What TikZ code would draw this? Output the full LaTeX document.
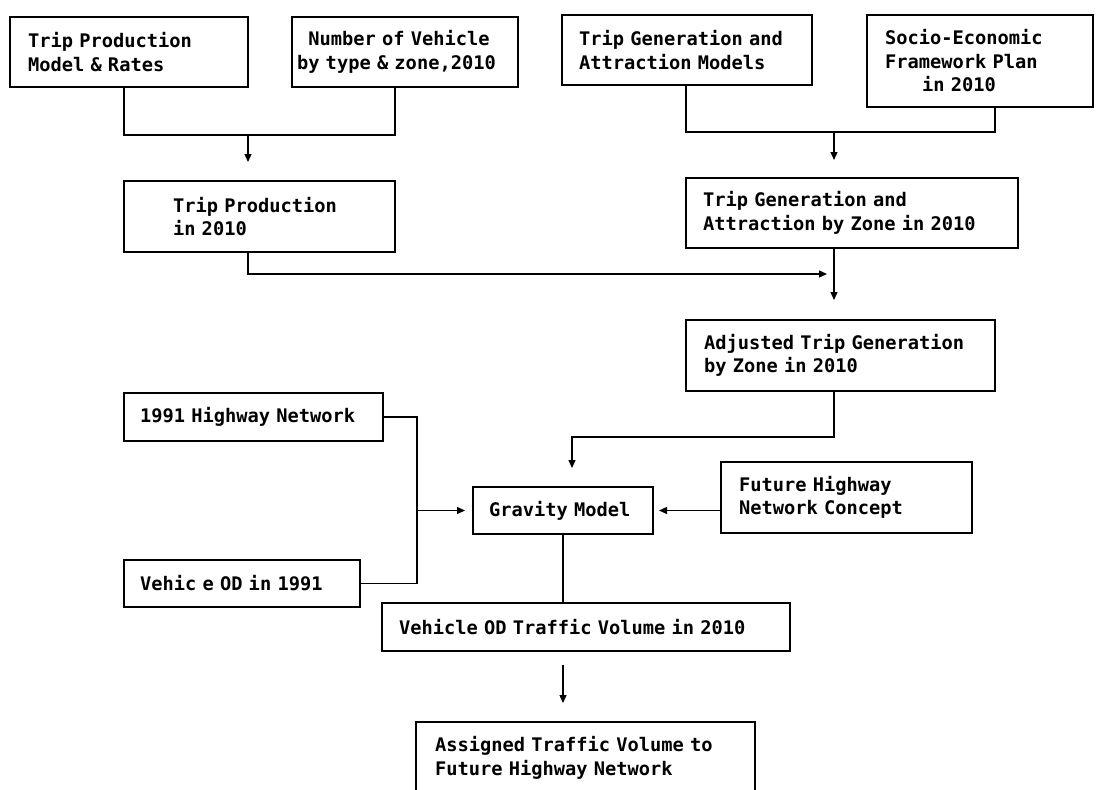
\documentclass[tikz,border=0pt]{standalone}
\usepackage{fontspec}
\usetikzlibrary{arrows.meta}
\newfontfamily\dmono{DejaVu Sans Mono}
\tikzset{
  box/.style={draw, line width=1.4pt, rectangle, anchor=north west, align=left,
    inner ysep=0pt, outer sep=0pt, font=\dmono\bfseries\fontsize{18.7}{23.5}\selectfont},
  conn/.style={line width=1.3pt},
  arr/.style={-{Triangle[length=8pt,width=7pt]}}
}
\begin{document}
\begin{tikzpicture}[x=1pt,y=-1pt]
\useasboundingbox (0,0) rectangle (1099,789);
\fill[white] (0,0) rectangle (1099,789);

\node[box, minimum width=238pt, minimum height=70pt, text width=202pt, inner xsep=18pt] (b1) at (10,17) {Trip Production\\Model \& Rates};
\node[box, minimum width=226pt, minimum height=70pt, text width=216pt, inner xsep=5pt] (b2) at (292,17) {\hphantom{x}Number of Vehicle\\by type \& zone,2010};
\node[box, minimum width=271pt, minimum height=71pt, text width=173pt, inner xsep=49pt] (b3) at (124,181) {Trip Production\\in 2010};
\node[box, minimum width=250pt, minimum height=70pt, text width=216pt, inner xsep=17pt] (b4) at (562,15) {Trip Generation and\\Attraction Models};
\node[box, minimum width=226pt, minimum height=92pt, text width=190pt, inner xsep=18pt] (b5) at (867,15) {Socio-Economic\\Framework Plan\\\hspace*{37pt}in 2010};
\node[box, minimum width=332pt, minimum height=70pt, text width=298pt, inner xsep=17pt] (b6) at (686,178) {Trip Generation and\\Attraction by Zone in 2010};
\node[box, minimum width=309pt, minimum height=71pt, text width=273pt, inner xsep=18pt] (b7) at (686,320) {Adjusted Trip Generation\\by Zone in 2010};
\node[box, minimum width=180pt, minimum height=47pt, text width=148pt, inner xsep=16pt] (b8) at (473,487) {Gravity Model};
\node[box, minimum width=251pt, minimum height=71pt, text width=215pt, inner xsep=18pt] (b9) at (721,462) {Future Highway\\Network Concept};
\node[box, minimum width=259pt, minimum height=48pt, text width=227pt, inner xsep=16pt] (b10) at (124,393) {1991 Highway Network};
\node[box, minimum width=236pt, minimum height=47pt, text width=204pt, inner xsep=16pt] (b11) at (124,560) {Vehic e OD in 1991};
\node[box, minimum width=408pt, minimum height=48pt, text width=374pt, inner xsep=17pt] (b12) at (382,603) {Vehicle OD Traffic Volume in 2010};
\node[box, minimum width=339pt, minimum height=72pt, text width=301pt, inner xsep=19pt] (b13) at (416,722) {Assigned Traffic Volume to\\Future Highway Network};

\coordinate (j1) at (248,135);
\coordinate (j2) at (834,132);
\coordinate (j3) at (834,274);
\coordinate (j4) at (572,437);
\coordinate (j5) at (417,0);

% top left merge
\draw[conn] (b1.south -| b3.west) -- ++(0,48) -| (b2.south -| b3.east);
\draw[conn,arr,shorten >=19pt] (j1) -- (j1 |- b3.north);
% top right merge
\draw[conn] (b4.south -| b6.west) -- ++(0,47) -| (b5.south -| b7.east);
\draw[conn,arr,shorten >=18pt] (j2) -- (j2 |- b6.north);
% trip production to right trunk
\draw[conn,arr,shorten >=7pt] (b3.south -| j1) |- (j3);
\draw[conn,arr,shorten >=20pt] (b6.south -| j3) -- (b7.north -| j3);
% adjusted to gravity
\draw[conn,arr,shorten >=19pt] (b7.south -| j3) |- (j4) -- (j4 |- b8.north);
% future network to gravity
\draw[conn,arr,shorten >=6pt] (b9.west |- b8.east) -- (b8.east);
% 1991 inputs
\draw[conn] (b10.east) -| (j5 |- b11.east) -- (b11.east);
\draw[conn,arr,shorten >=8pt] (j5 |- b8.west) -- (b8.west);
% gravity down
\draw[conn] (b8.south) -- (b8.south |- b12.north);
\draw[conn,arr,shorten <=14pt,shorten >=19pt] (b12.south -| b8.south) -- (b13.north -| b8.south);
\end{tikzpicture}
\end{document}
